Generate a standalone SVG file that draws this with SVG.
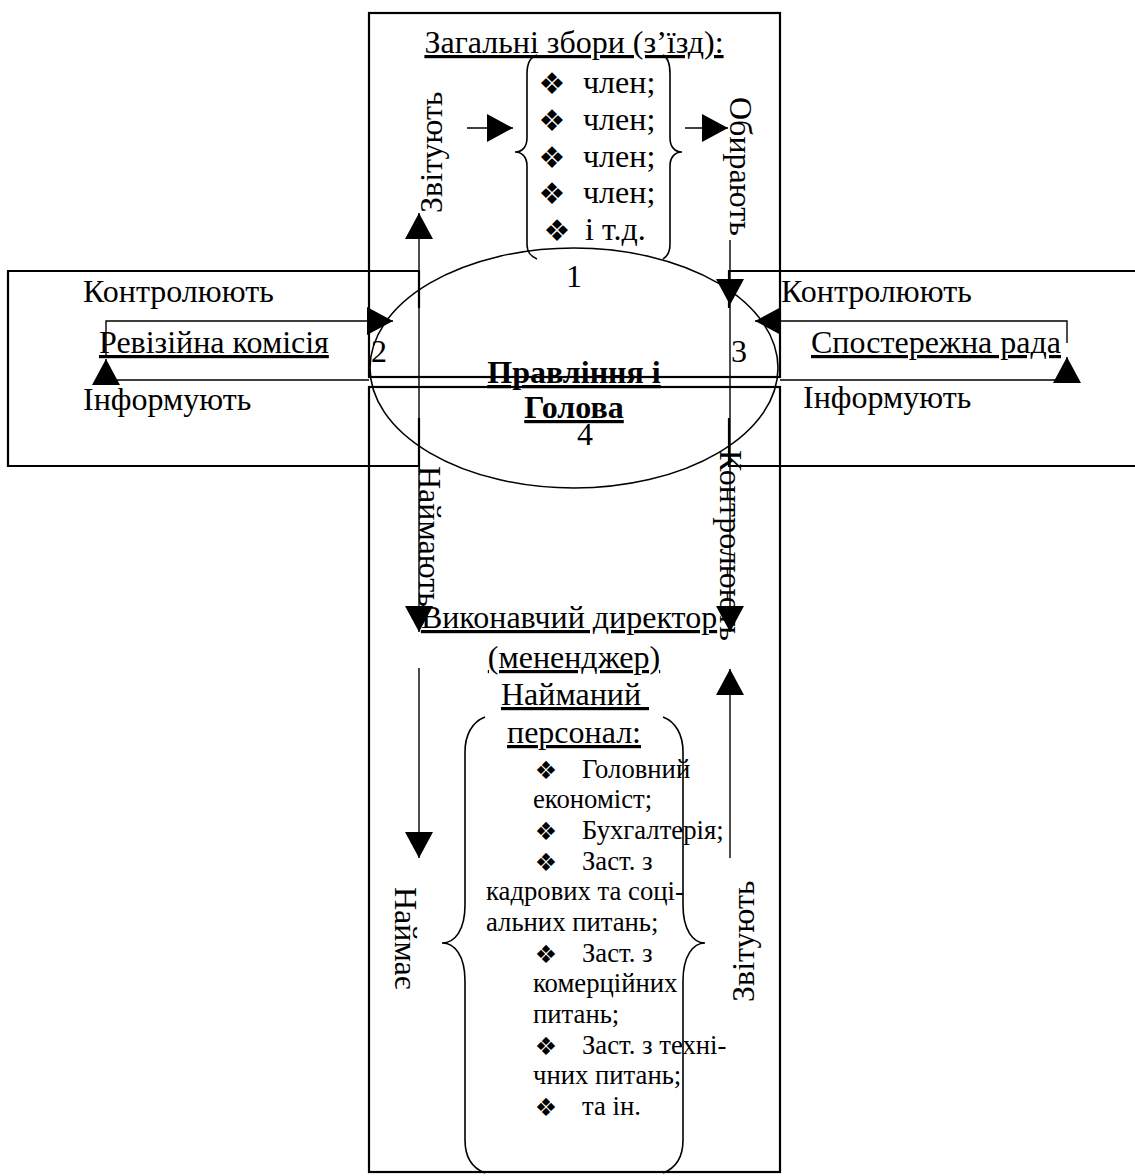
<svg xmlns="http://www.w3.org/2000/svg" width="1135" height="1176" viewBox="0 0 1135 1176">
<defs>
<marker id="ah" markerUnits="userSpaceOnUse" markerWidth="27" markerHeight="28" refX="26" refY="14" orient="auto" viewBox="0 0 27 28">
<path d="M0,0 L26,14 L0,28 z" fill="#000"/>
</marker>
<style>
text{font-family:"Liberation Serif","Times New Roman",serif;fill:#000}
.t{font-size:32px}
.s{font-size:26.7px}
.u{text-decoration:underline}
.b{font-weight:bold}
.bul{font-family:"DejaVu Sans",sans-serif;font-size:30px}
.bul2{font-family:"DejaVu Sans",sans-serif;font-size:25px}
.frame{fill:none;stroke:#000;stroke-width:2.2}
.brace{fill:none;stroke:#000;stroke-width:1.6}
.con{fill:none;stroke:#000;stroke-width:1.4}
.arr{fill:none;stroke:#000;stroke-width:1.4;marker-end:url(#ah)}
</style>
</defs>
<rect width="1135" height="1176" fill="#fff"/>

<g id="pravlinnia">
<ellipse cx="574" cy="368" rx="204" ry="120" fill="#fff" stroke="#000" stroke-width="1.6"/>
<text class="t b u" x="574" y="383" text-anchor="middle">Правління і</text>
<text class="t b u" x="574" y="418" text-anchor="middle">Голова</text>
<text class="t" x="574" y="287" text-anchor="middle">1</text>
<text class="t" x="371" y="362">2</text>
<text class="t" x="731" y="362">3</text>
<text class="t" x="577" y="445">4</text>
</g>

<g id="revkom">
<path class="frame" d="M419,308 L419,271 L8,271 L8,466 L419,466 L419,418"/>
<text class="t" x="83" y="302">Контролюють</text>
<text class="t u" x="99" y="353">Ревізійна комісія</text>
<text class="t" x="83" y="410">Інформують</text>
</g>

<g id="sprada">
<path class="frame" d="M729,308 L729,271 L1137,271 M1137,466 L729,466 L729,418"/>
<text class="t" x="781" y="302">Контролюють</text>
<text class="t u" x="811" y="353">Спостережна рада</text>
<text class="t" x="803" y="408">Інформують</text>
</g>

<g id="zbory">
<rect class="frame" x="369" y="13" width="411" height="364"/>
<text class="t u" x="574" y="53" text-anchor="middle">Загальні збори (з’їзд):</text>
<path class="brace" d="M537,55 C530,57 527,63 527,74 L527,138 C527,147 522,152 515,152 C522,152 527,157 527,166 L527,244 C527,252 530,256 537,259"/>
<path class="brace" d="M663,55 C667,57 670,63 670,74 L670,138 C670,147 675,152 682,152 C675,152 670,157 670,166 L670,244 C670,252 668,256 663,259"/>
<text class="bul" x="552" y="94" text-anchor="middle">❖</text>
<text class="t" x="583" y="93">член;</text>
<text class="bul" x="552" y="131" text-anchor="middle">❖</text>
<text class="t" x="583" y="130">член;</text>
<text class="bul" x="552" y="168" text-anchor="middle">❖</text>
<text class="t" x="583" y="167">член;</text>
<text class="bul" x="552" y="204" text-anchor="middle">❖</text>
<text class="t" x="583" y="203">член;</text>
<text class="bul" x="557" y="241" text-anchor="middle">❖</text>
<text class="t" x="585" y="240">і т.д.</text>
</g>

<g id="dyrektor">
<rect class="frame" x="369" y="387" width="411" height="785"/>
<text class="t u" x="569" y="628" text-anchor="middle">Виконавчий директор</text>
<text class="t u" x="574" y="668" text-anchor="middle">(мененджер)</text>
<text class="t u" x="575" y="705" text-anchor="middle" style="white-space:pre">Найманий </text>
<text class="t u" x="574" y="743" text-anchor="middle">персонал:</text>
<path class="brace" d="M485,717 C472,722 465,735 465,752 L465,905 C465,930 455,943 442,943 C455,943 465,956 465,981 L465,1140 C465,1158 472,1168 485,1173"/>
<path class="brace" d="M663,717 C676,722 683,735 683,752 L683,905 C683,930 693,943 705,943 C693,943 683,956 683,981 L683,1140 C683,1158 676,1168 663,1173"/>
<text class="bul2" x="546" y="779" text-anchor="middle">❖</text>
<text class="s" x="582" y="778">Головний</text>
<text class="s" x="533" y="808">економіст;</text>
<text class="bul2" x="546" y="840" text-anchor="middle">❖</text>
<text class="s" x="582" y="839">Бухгалтерія;</text>
<text class="bul2" x="546" y="871" text-anchor="middle">❖</text>
<text class="s" x="582" y="870">Заст. з</text>
<text class="s" x="486" y="900">кадрових та соці-</text>
<text class="s" x="486" y="931">альних питань;</text>
<text class="bul2" x="546" y="963" text-anchor="middle">❖</text>
<text class="s" x="582" y="962">Заст. з</text>
<text class="s" x="533" y="992">комерційних</text>
<text class="s" x="533" y="1023">питань;</text>
<text class="bul2" x="546" y="1055" text-anchor="middle">❖</text>
<text class="s" x="582" y="1054">Заст. з техні-</text>
<text class="s" x="533" y="1084">чних питань;</text>
<text class="bul2" x="546" y="1116" text-anchor="middle">❖</text>
<text class="s" x="582" y="1115">та ін.</text>
</g>

<g id="connectors">
<line x1="369" y1="377" x2="780" y2="377" stroke="#000" stroke-width="2.2"/>
<line x1="369" y1="387" x2="780" y2="387" stroke="#000" stroke-width="2.2"/>
<path class="arr" d="M467,128 L513,128"/>
<path class="arr" d="M685,128 L728,128"/>
<path class="arr" d="M419,450 L419,213"/>
<path class="arr" d="M419,450 L419,632"/>
<path class="arr" d="M730,240 L730,305"/>
<path class="arr" d="M730,305 L730,632"/>
<path class="arr" d="M106,357 L106,321 L393,321"/>
<path class="arr" d="M369,380 L106,380 L106,359"/>
<path class="arr" d="M1067,343 L1067,321 L755,321"/>
<path class="arr" d="M780,380 L1067,380 L1067,357"/>
<path class="arr" d="M419,668 L419,858"/>
<path class="arr" d="M730,858 L730,669"/>
<text class="t" transform="translate(442,213) rotate(-90)">Звітують</text>
<text class="t" transform="translate(730,97) rotate(90)">Обирають</text>
<text class="t" transform="translate(419,466) rotate(90)">Наймають</text>
<text class="t" transform="translate(720,450) rotate(90)">Контролюють</text>
<text class="t" transform="translate(395,887) rotate(90)">Наймає</text>
<text class="t" transform="translate(754,1002) rotate(-90)">Звітують</text>
</g>
</svg>
